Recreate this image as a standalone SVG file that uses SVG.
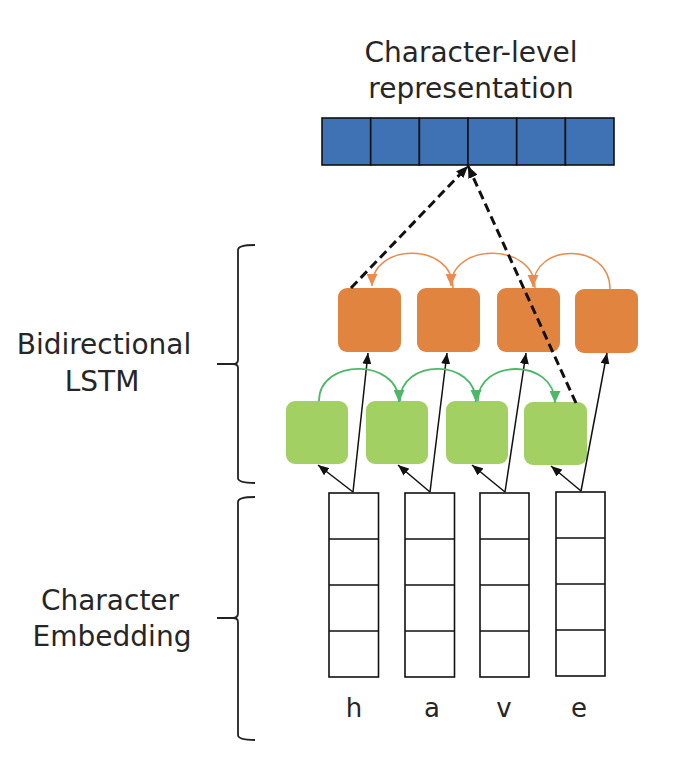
<svg xmlns="http://www.w3.org/2000/svg" width="684" height="766" viewBox="0 0 684 766">
<defs>
<style>
.lbl{font-family:"DejaVu Sans","Open Sans",sans-serif;font-size:28px;fill:#262626;text-anchor:middle}
.ch{font-family:"DejaVu Sans","Open Sans",sans-serif;font-size:26px;fill:#262626;text-anchor:middle}
.orange{fill:#E0843F}
.green{fill:#A2D063}
.cell{fill:#3F72B4;stroke:#111;stroke-width:1.6}
.emb{fill:#fff;stroke:#111;stroke-width:1.6}
.brace{fill:none;stroke:#222;stroke-width:1.8}
.thin{stroke:#111;stroke-width:1.5;fill:none}
.dash{stroke:#111;stroke-width:3;stroke-dasharray:9 5;fill:none}
.garc{stroke:#4DB868;stroke-width:1.8;fill:none}
.oarc{stroke:#EA8C4E;stroke-width:1.5;fill:none}
</style>
<marker id="ab" markerUnits="userSpaceOnUse" markerWidth="11" markerHeight="9" refX="11" refY="4.5" orient="auto"><path d="M0,0 L11,4.5 L0,9 z" fill="#111"/></marker>
<marker id="abd" markerUnits="userSpaceOnUse" markerWidth="12" markerHeight="10" refX="12" refY="5" orient="auto"><path d="M0,0 L12,5 L0,10 z" fill="#111"/></marker>
<marker id="ag" markerUnits="userSpaceOnUse" markerWidth="12" markerHeight="11" refX="12" refY="5.5" orient="auto"><path d="M0,0 L12,5.5 L0,11 z" fill="#4DB868"/></marker>
<marker id="ao" markerUnits="userSpaceOnUse" markerWidth="12" markerHeight="11" refX="12" refY="5.5" orient="auto"><path d="M0,0 L12,5.5 L0,11 z" fill="#EA8C4E"/></marker>
</defs>
<rect width="684" height="766" fill="#fff"/>

<g id="title"><text class="lbl" x="471" y="62">Character-level</text><text class="lbl" x="471" y="98">representation</text></g>
<g id="label-bilstm"><text class="lbl" x="104" y="354">Bidirectional</text><text class="lbl" x="102" y="391">LSTM</text></g>
<g id="label-embedding"><text class="lbl" x="110" y="610">Character</text><text class="lbl" x="112" y="646">Embedding</text></g>

<g id="brace-bilstm"><path class="brace" d="M255,245 Q238,245 238,250 L238,360 Q238,364 233,364 L217,364 M233,364 Q238,364 238,368 L238,478 Q238,483 255,483"/></g>
<g id="brace-embedding"><path class="brace" d="M255,497 Q238,497 238,502 L238,613 Q238,618 233,618 L217,618 M233,618 Q238,618 238,622 L238,735 Q238,740 255,740"/></g>

<g id="char-repr">
<rect class="cell" x="322" y="118" width="48.7" height="47"/>
<rect class="cell" x="370.7" y="118" width="48.7" height="47"/>
<rect class="cell" x="419.4" y="118" width="48.6" height="47"/>
<rect class="cell" x="468" y="118" width="48.7" height="47"/>
<rect class="cell" x="516.7" y="118" width="48.7" height="47"/>
<rect class="cell" x="565.4" y="118" width="48.6" height="47"/>
</g>

<g id="bw1"><rect class="orange" x="338" y="288" width="63" height="64" rx="9"/></g>
<g id="bw2"><rect class="orange" x="417" y="288" width="63" height="64" rx="9"/></g>
<g id="bw3"><rect class="orange" x="497" y="288" width="63" height="64" rx="9"/></g>
<g id="bw4"><rect class="orange" x="575" y="289" width="63" height="64" rx="9"/></g>

<g id="fw1"><rect class="green" x="286" y="401" width="62" height="63" rx="9"/></g>
<g id="fw2"><rect class="green" x="366" y="401" width="62" height="63" rx="9"/></g>
<g id="fw3"><rect class="green" x="446" y="401" width="62" height="63" rx="9"/></g>
<g id="fw4"><rect class="green" x="524" y="402" width="63" height="63" rx="9"/></g>

<g id="emb-h"><rect class="emb" x="329" y="493" width="49.5" height="184"/><path class="thin" d="M329,539 H378.5 M329,585 H378.5 M329,631 H378.5"/><text class="ch" x="354" y="717">h</text></g>
<g id="emb-a"><rect class="emb" x="405" y="493" width="49.5" height="184"/><path class="thin" d="M405,539 H454.5 M405,585 H454.5 M405,631 H454.5"/><text class="ch" x="432" y="717">a</text></g>
<g id="emb-v"><rect class="emb" x="480" y="493" width="49" height="184"/><path class="thin" d="M480,539 H529 M480,585 H529 M480,631 H529"/><text class="ch" x="504" y="717">v</text></g>
<g id="emb-e"><rect class="emb" x="556" y="492" width="49" height="184"/><path class="thin" d="M556,538 H605 M556,584 H605 M556,630 H605"/><text class="ch" x="579" y="717">e</text></g>

<g id="connectors">
<line class="thin" x1="353" y1="492" x2="318" y2="465" marker-end="url(#ab)"/>
<line class="thin" x1="353" y1="492" x2="368" y2="353" marker-end="url(#ab)"/>
<line class="thin" x1="430" y1="492" x2="398" y2="465" marker-end="url(#ab)"/>
<line class="thin" x1="430" y1="492" x2="447" y2="353" marker-end="url(#ab)"/>
<line class="thin" x1="505" y1="492" x2="472" y2="465" marker-end="url(#ab)"/>
<line class="thin" x1="505" y1="492" x2="526" y2="353" marker-end="url(#ab)"/>
<line class="thin" x1="581" y1="491" x2="551" y2="466" marker-end="url(#ab)"/>
<line class="thin" x1="581" y1="491" x2="607" y2="353" marker-end="url(#ab)"/>

<path class="garc" d="M319,401 C319,358 399,358 399,402" marker-end="url(#ag)"/>
<path class="garc" d="M400,401 C400,358 476,358 476,402" marker-end="url(#ag)"/>
<path class="garc" d="M478,401 C478,358 555,358 555,403" marker-end="url(#ag)"/>

<path class="oarc" d="M610,289 C610,242 533,242 533,287" marker-end="url(#ao)"/>
<path class="oarc" d="M535,288 C535,242 451,242 451,286" marker-end="url(#ao)"/>
<path class="oarc" d="M453,288 C453,242 372,242 372,286" marker-end="url(#ao)"/>

<line class="dash" x1="351" y1="288" x2="468" y2="166" marker-end="url(#abd)"/>
<line class="dash" x1="576" y1="403" x2="468" y2="166" marker-end="url(#abd)"/>
</g>
</svg>
